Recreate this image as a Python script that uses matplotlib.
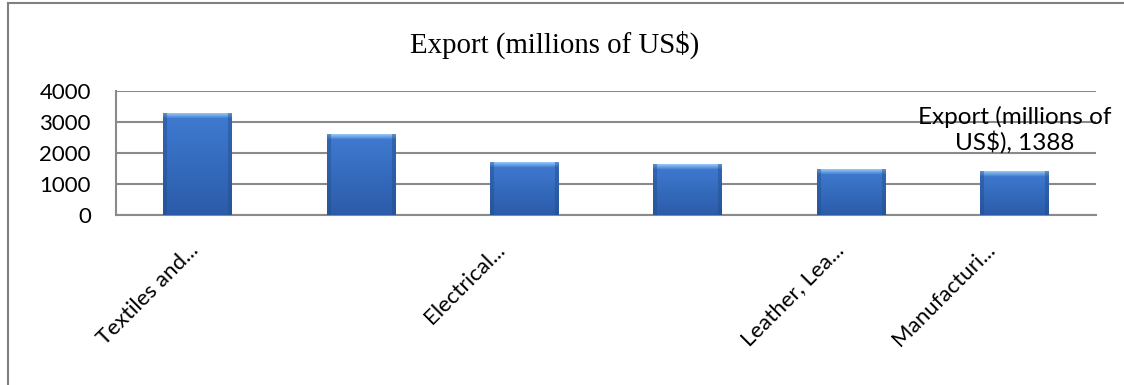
import numpy as np
import matplotlib
matplotlib.use('Agg')
import matplotlib.pyplot as plt
from matplotlib.lines import Line2D
from matplotlib.colors import to_rgb
from matplotlib.transforms import ScaledTranslation

# Data
categories = ['Textiles and...', '', 'Electrical...', '', 'Leather, Lea...', 'Manufacturi...']
export_values = [3290, 2590, 1710, 1645, 1460, 1388]
y_ticks = [0, 1000, 2000, 3000, 4000]
series_name = 'Export (millions of US$)'

plt.rcParams['font.family'] = ['Lato', 'DejaVu Sans']

fig = plt.figure(figsize=(11.24, 3.85), dpi=100)
ax = fig.add_axes([0.1032, 0.4416, 0.8719, 0.3220])


def shade_bar(ax, rect, ymax):
    # fake the Excel 2007 bevel: light band on top, darker sides, soft vertical gradient
    rows = max(int(rect.get_height() / ymax * 124), 8)
    cols = 68
    top = np.array(to_rgb('#3f7bd2'))
    bottom = np.array(to_rgb('#2b5ba8'))
    light = np.array(to_rgb('#8fc3f5'))
    dark = np.array(to_rgb('#224c8a'))
    img = np.zeros((rows, cols, 3))
    for r in range(rows):
        base = top + (bottom - top) * r / rows
        if r < 5:
            base = base + (light - base) * (1 - r / 5)
        img[r, :] = base
    img[:, :4] = img[:, :4] * 0.55 + dark * 0.45
    img[:, -4:] = img[:, -4:] * 0.55 + dark * 0.45
    x0 = rect.get_x()
    ax.imshow(img, extent=(x0, x0 + rect.get_width(), 0, rect.get_height()),
              aspect='auto', interpolation='bilinear', zorder=3, clip_path=rect)


x = np.arange(len(export_values))
bars = ax.bar(x, export_values, width=0.42, color='#3a72c6', edgecolor='none', zorder=2)
for b in bars:
    shade_bar(ax, b, max(y_ticks))

ax.set_xlim(-0.5, len(export_values) - 0.5)
ax.set_ylim(0, max(y_ticks))
ax.set_yticks(y_ticks)
ax.set_yticklabels([str(t) for t in y_ticks])
ax.set_xticks(x)
ax.set_xticklabels(categories, rotation=45, ha='right', va='center', rotation_mode='anchor')
ax.tick_params(axis='both', length=0, labelsize=16, colors='black')
ax.tick_params(axis='y', pad=18)
ax.tick_params(axis='x', pad=23)

# Excel places the truncated labels a little unevenly; nudge them left (pixels)
label_dx = [-2, 0, -23, 0, -10, -22]
for lbl, dx in zip(ax.get_xticklabels(), label_dx):
    lbl.set_transform(lbl.get_transform() + ScaledTranslation(dx / 100, 0, fig.dpi_scale_trans))

ax.grid(axis='y', color='#8a8a8a', linewidth=1.5, zorder=1)
ax.set_axisbelow(True)
for side in ['top', 'right']:
    ax.spines[side].set_visible(False)
for side in ['left', 'bottom']:
    ax.spines[side].set_color('#8a8a8a')
    ax.spines[side].set_linewidth(1.5)

# data label on the last bar only
ax.annotate('Export (millions of\nUS$), ' + str(export_values[-1]),
            xy=(x[-1], export_values[-1]), xytext=(0, 13), textcoords='offset points',
            ha='center', va='bottom', multialignment='center', fontsize=17.5,
            linespacing=1.15, annotation_clip=False)

fig.text(555 / 1124, 1 - 45 / 385, series_name, ha='center', va='center',
         fontfamily='Liberation Serif', fontsize=20.8)

# chart frame: only its top and left edges fall inside the crop
fx, fy = 8 / 1124, 1 - 3 / 385
fig.add_artist(Line2D([fx, 1.0], [fy, fy], transform=fig.transFigure, color='#808080', linewidth=1.5))
fig.add_artist(Line2D([fx, fx], [0.0, fy], transform=fig.transFigure, color='#808080', linewidth=1.5))

fig.savefig('out.png', dpi=100)
